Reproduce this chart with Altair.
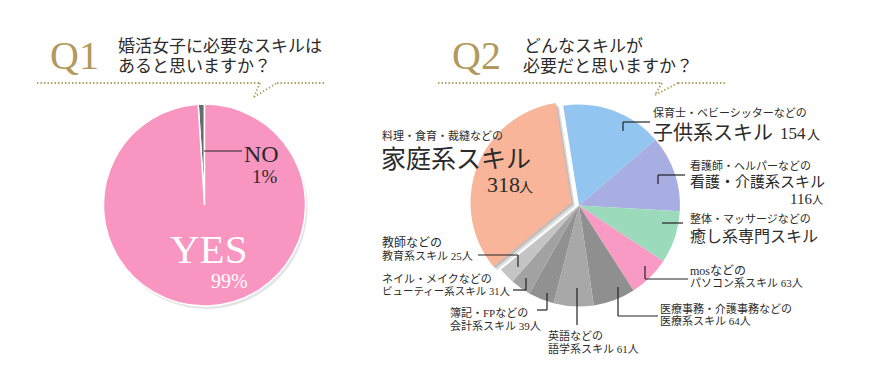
import math
import altair as alt
import pandas as pd

# ---------------- data ----------------
q1_cats = ["NO", "YES"]
q1_vals = [1, 99]
q1_colors = ["#6a6a6a", "#f895c0"]

q2_cats = ["子供系スキル", "看護・介護系スキル", "癒し系専門スキル", "パソコン系スキル", "医療系スキル",
           "語学系スキル", "会計系スキル", "ビューティー系スキル", "教育系スキル", "家庭系スキル"]
q2_vals = [154, 116, 80, 63, 64, 61, 39, 31, 25, 318]
q2_colors = ["#93c5f1", "#a9aee2", "#9bdbbc", "#f89ac4", "#8f8f8f",
             "#a8a8a8", "#919191", "#a2a2a2", "#c4c4c4", "#f8b59a"]
EXPLODED = "家庭系スキル"

# annotation texts
label_texts = [
    "Q1", "婚活女子に必要なスキルは", "あると思いますか？",
    "Q2", "どんなスキルが", "必要だと思いますか？",
    "NO", "1%", "YES", "99%",
    "料理・食育・裁縫などの", "家庭系スキル", "318", "人",
    "保育士・ベビーシッターなどの", "子供系スキル", "154", "人",
    "看護師・ヘルパーなどの", "看護・介護系スキル", "116", "人",
    "整体・マッサージなどの", "癒し系専門スキル",
    "mosなどの", "パソコン系スキル 63人",
    "医療事務・介護事務などの", "医療系スキル 64人",
    "英語などの", "語学系スキル 61人",
    "簿記・FPなどの", "会計系スキル 39人",
    "ネイル・メイクなどの", "ビューティー系スキル 31人",
    "教師などの", "教育系スキル 25人",
]

# ---------------- layout (page pixels) ----------------
M = 8  # page margin
GOLD = "#b29a5d"
INK = "#2b2b2b"

# x, baseline y, font size, colour  (one entry per label text)
label_layout = [
    (50, 69, 40, GOLD), (118, 52, 17, INK), (118, 72, 17, INK),
    (452, 69, 40, GOLD), (524, 52, 17, INK), (523, 72, 17, INK),
    (244, 162, 24, INK), (252, 183, 19, INK), (170, 263, 41, "#ffffff"), (211, 288, 20, "#ffffff"),
    (382, 140, 11, INK), (381, 168, 25, INK), (487, 192, 22, INK), (519, 192, 14, INK),
    (653, 117, 11, INK), (653, 140, 20, INK), (780, 139, 17, INK), (807, 139, 13, INK),
    (690, 170, 11, INK), (690, 187, 15, INK), (790, 204, 15, INK), (812, 204, 11, INK),
    (690, 223, 11, INK), (690, 242, 16, INK),
    (690, 275, 12, INK), (690, 287, 11, INK),
    (660, 313, 11, INK), (660, 325, 11, INK),
    (548, 340, 11, INK), (548, 353, 11, INK),
    (450, 317, 11, INK), (450, 330, 11, INK),
    (382, 283, 11, INK), (382, 295, 10.5, INK),
    (382, 247, 12, INK), (382, 260, 11, INK),
]

leader_segments = [
    (204, 151, 242, 151),
    (650, 122, 623, 122), (623, 122, 623, 131),
    (685, 175, 658, 175), (658, 175, 658, 184),
    (662, 223, 683, 223),
    (645, 266, 645, 279), (645, 279, 688, 279),
    (618, 287, 618, 316), (618, 316, 658, 316),
    (577, 288, 577, 325),
    (547, 293, 547, 310), (547, 310, 537, 310),
    (526, 278, 526, 290), (526, 290, 513, 290),
    (478, 255, 518, 255), (518, 255, 518, 267),
]

dotted_segments = [
    (37, 83, 260, 83), (260, 83, 254, 97), (254, 97, 277, 83), (277, 83, 325, 83),
    (438, 83, 662, 83), (662, 83, 655, 95), (655, 95, 678, 83), (678, 83, 725, 83),
]

R = 101
Q1_CX, Q1_CY = 204.5 - M, 205 - M
Q2_CX, Q2_CY = 579 - M, 205.5 - M
q1_start = -2 * math.pi * q1_vals[0] / sum(q1_vals)
q2_start = math.radians(-9)

# explode offset for the home-skill slice
tot = sum(q2_vals)
before = sum(q2_vals[:-1])
mid = q2_start + (before + q2_vals[-1] / 2) / tot * 2 * math.pi
EX_D = 8
EX_CX = Q2_CX + EX_D * math.sin(mid)
EX_CY = Q2_CY - EX_D * math.cos(mid)

# ---------------- tables ----------------
q1_df = pd.DataFrame({"cat": q1_cats, "val": q1_vals, "idx": list(range(len(q1_cats)))})
q2_df = pd.DataFrame({"cat": q2_cats, "val": q2_vals, "idx": list(range(len(q2_cats)))})

lab_df = pd.DataFrame({
    "text": label_texts,
    "x": [l[0] - M for l in label_layout],
    "y": [l[1] - M for l in label_layout],
    "size": [l[2] for l in label_layout],
    "color": [l[3] for l in label_layout],
})

def seg_df(segs):
    return pd.DataFrame({
        "x": [s[0] - M for s in segs], "y": [s[1] - M for s in segs],
        "x2": [s[2] - M for s in segs], "y2": [s[3] - M for s in segs],
    })

lead_df = seg_df(leader_segments)
dot_df = seg_df(dotted_segments)

# ---------------- marks ----------------
q1_theta = alt.Theta("val:Q", stack=True,
                     scale=alt.Scale(range=[q1_start, q1_start + 2 * math.pi]))
q2_theta = alt.Theta("val:Q", stack=True,
                     scale=alt.Scale(range=[q2_start, q2_start + 2 * math.pi]))
q1_order = alt.Order("idx:Q", sort="ascending")
q2_order = alt.Order("idx:Q", sort="ascending")

q1_shadow = alt.Chart(q1_df).mark_arc(radius=R, color="#000000", opacity=0.10).encode(
    theta=q1_theta, order=q1_order,
    x=alt.value(Q1_CX + 2), y=alt.value(Q1_CY + 3),
)
q1_pie = alt.Chart(q1_df).mark_arc(radius=R, stroke="#ffffff", strokeWidth=1.5).encode(
    theta=q1_theta, order=q1_order,
    color=alt.Color("cat:N", scale=alt.Scale(domain=q1_cats, range=q1_colors), legend=None),
    x=alt.value(Q1_CX), y=alt.value(Q1_CY),
)

is_home = f"datum.cat == '{EXPLODED}'"

q2_base = alt.Chart(q2_df).mark_arc(radius=R).encode(
    theta=q2_theta, order=q2_order,
    color=alt.Color("cat:N", scale=alt.Scale(domain=q2_cats, range=q2_colors), legend=None),
    opacity=alt.condition(is_home, alt.value(0), alt.value(1)),
    x=alt.value(Q2_CX), y=alt.value(Q2_CY),
)
q2_sh1 = alt.Chart(q2_df).mark_arc(radius=R, color="#000000").encode(
    theta=q2_theta, order=q2_order,
    opacity=alt.condition(is_home, alt.value(0.12), alt.value(0)),
    x=alt.value(EX_CX + 3.5), y=alt.value(EX_CY + 3.5),
)
q2_sh2 = alt.Chart(q2_df).mark_arc(radius=R, color="#000000").encode(
    theta=q2_theta, order=q2_order,
    opacity=alt.condition(is_home, alt.value(0.15), alt.value(0)),
    x=alt.value(EX_CX + 1.8), y=alt.value(EX_CY + 1.8),
)
q2_exp = alt.Chart(q2_df).mark_arc(radius=R).encode(
    theta=q2_theta, order=q2_order,
    color=alt.Color("cat:N", scale=alt.Scale(domain=q2_cats, range=q2_colors), legend=None),
    opacity=alt.condition(is_home, alt.value(1), alt.value(0)),
    x=alt.value(EX_CX), y=alt.value(EX_CY),
)

dots = alt.Chart(dot_df).mark_rule(color=GOLD, strokeWidth=1.8, strokeDash=[1.4, 2.1]).encode(
    x=alt.X("x:Q", scale=None, axis=None), y=alt.Y("y:Q", scale=None, axis=None),
    x2="x2:Q", y2="y2:Q",
)
leaders = alt.Chart(lead_df).mark_rule(color="#222222", strokeWidth=1.2).encode(
    x=alt.X("x:Q", scale=None, axis=None), y=alt.Y("y:Q", scale=None, axis=None),
    x2="x2:Q", y2="y2:Q",
)
labels = alt.Chart(lab_df).mark_text(
    align="left", baseline="alphabetic",
    font="'Liberation Serif', 'Noto Sans CJK JP', serif",
).encode(
    x=alt.X("x:Q", scale=None, axis=None), y=alt.Y("y:Q", scale=None, axis=None),
    text="text:N",
    size=alt.Size("size:Q", scale=None, legend=None),
    color=alt.Color("color:N", scale=None, legend=None),
)

chart = alt.layer(
    q1_shadow, q1_pie, q2_base, q2_sh1, q2_sh2, q2_exp, dots, leaders, labels
).resolve_scale(
    theta="independent", color="independent", opacity="independent", size="independent"
).properties(
    width=853, height=350, padding=0,
    autosize=alt.AutoSizeParams(type="none"),
    background="white",
).configure_view(stroke=None)

chart.save("out.html", embed_options={"renderer": "svg", "actions": False})
